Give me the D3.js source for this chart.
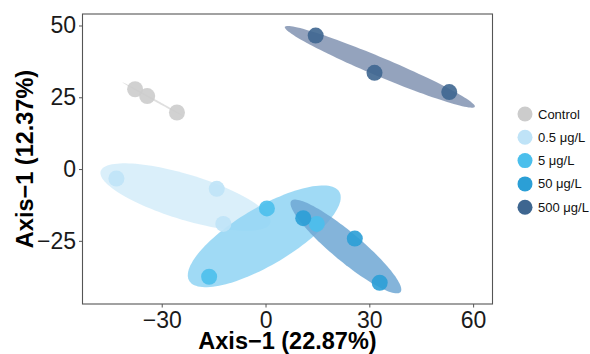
<!DOCTYPE html>
<html><head><meta charset="utf-8">
<script src="https://cdn.jsdelivr.net/npm/d3@7"></script>
<style>body{margin:0;background:#fff}text{font-family:"Liberation Sans",Arial,sans-serif}</style>
</head><body><svg id="c" width="590" height="354"></svg>
<script>
const groups = ["Control","0.5 μg/L","5 μg/L","50 μg/L","500 μg/L"];
const colors = ["#cccccc","#bfe3f7","#4bbfec","#2b9fd6","#3e6690"];
const ellipseColors = ["#d9d9d9","#d4ecf9","#8fd3f3","#6fa7d4","#8193b1"];
const xs = [[-37.7,-34.2,-25.6],[-43.1,-14.1,-12.2],[-16.3,0.4,14.8],[10.9,25.8,33.0],[14.5,31.5,53.1]];
const ys = [[27.8,25.4,19.7],[-3.3,-6.9,-19.1],[-37.5,-13.7,-19.1],[-17.1,-24.2,-39.6],[46.5,33.5,26.8]];
const xTicks = [-30,0,30,60];
const yTicks = [-25,0,25,50];
const xTitle = "Axis\u22121 (22.87%)";
const yTitle = "Axis\u22121 (12.37%)";

const svg = d3.select("#c");
const L=82.5,R=492.5,T=14,B=304;
const x = d3.scaleLinear().domain([-52.9,65.6]).range([L,R]);
const y = d3.scaleLinear().domain([-47.0,54.0]).range([B,T]);

// ellipses
const k = 1.42;
groups.forEach((g,i)=>{
  const px=xs[i], py=ys[i], n=px.length;
  const mx=d3.mean(px), my=d3.mean(py);
  let sxx=0,syy=0,sxy=0;
  for(let j=0;j<n;j++){const dx=px[j]-mx,dy=py[j]-my;sxx+=dx*dx;syy+=dy*dy;sxy+=dx*dy;}
  sxx/=n-1;syy/=n-1;sxy/=n-1;
  const tr=sxx+syy, det=sxx*syy-sxy*sxy;
  const disc=Math.sqrt(Math.max(tr*tr/4-det,0));
  const l1=tr/2+disc, l2=Math.max(tr/2-disc,0.05);
  let vx=l1-syy, vy=sxy; const nv=Math.hypot(vx,vy)||1; vx/=nv; vy/=nv;
  const a=k*Math.sqrt(l1), b=k*Math.sqrt(l2);
  const pts=d3.range(0,361,3).map(d=>{const t=d*Math.PI/180;
    const u=a*Math.cos(t), v=b*Math.sin(t);
    return [x(mx+u*vx-v*vy), y(my+u*vy+v*vx)];});
  svg.append("path").attr("d",d3.line()(pts)+"Z").attr("fill",ellipseColors[i]).attr("fill-opacity",0.85);
});
// points
groups.forEach((g,i)=>{
  svg.append("g").selectAll("circle").data(d3.range(xs[i].length)).join("circle")
   .attr("cx",j=>x(xs[i][j])).attr("cy",j=>y(ys[i][j])).attr("r",8)
   .attr("fill",colors[i]).attr("fill-opacity",0.9);
});
// panel
svg.append("rect").attr("x",L).attr("y",T).attr("width",R-L).attr("height",B-T)
  .attr("fill","none").attr("stroke","#555").attr("stroke-width",1.1);
const xa = svg.append("g").attr("transform",`translate(0,${B})`)
  .call(d3.axisBottom(x).tickValues(xTicks).tickSize(3.5).tickPadding(4.5).tickFormat(d=>d<0?"\u2212"+Math.abs(d):d));
const ya = svg.append("g").attr("transform",`translate(${L},0)`)
  .call(d3.axisLeft(y).tickValues(yTicks).tickSize(3.5).tickPadding(3).tickFormat(d=>d<0?"\u2212"+Math.abs(d):d));
[xa,ya].forEach(a=>{a.select(".domain").remove();a.selectAll("line").attr("stroke","#555");
  a.selectAll("text").attr("font-size",23).attr("fill","#1a1a1a").attr("font-family","Liberation Sans, Arial, sans-serif");});
svg.append("text").attr("x",(L+R)/2).attr("y",348.5).attr("text-anchor","middle")
  .attr("font-size",23.5).attr("font-weight","bold").text(xTitle);
svg.append("text").attr("transform",`translate(33,${(T+B)/2}) rotate(-90)`).attr("text-anchor","middle")
  .attr("font-size",23.5).attr("font-weight","bold").text(yTitle);
// legend
const lg = svg.append("g");
groups.forEach((g,i)=>{
  const yy=114+i*23.3;
  lg.append("circle").attr("cx",525).attr("cy",yy).attr("r",7.5).attr("fill",colors[i]);
  lg.append("text").attr("x",538).attr("y",yy).attr("dy","0.35em").attr("font-size",13).attr("fill","#111").text(g);
});
</script></body></html>
